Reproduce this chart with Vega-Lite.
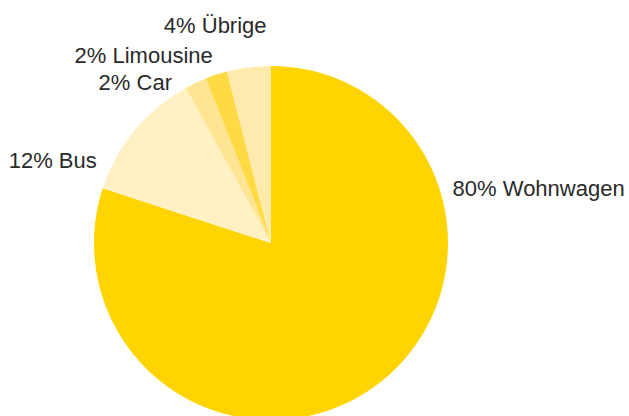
{
  "$schema": "https://vega.github.io/schema/vega-lite/v6.json",
  "autosize": "none",
  "padding": {"top": 70, "left": 0, "right": 87, "bottom": 0},
  "width": 542,
  "height": 346,
  "background": "white",
  "config": {"view": {"stroke": null}},
  "data": {
    "values": [
      {"category": "Wohnwagen", "share": 80, "rank": 1, "label": "80% Wohnwagen"},
      {"category": "Bus", "share": 12, "rank": 2, "label": "12% Bus"},
      {"category": "Car", "share": 2, "rank": 3, "label": "2% Car"},
      {"category": "Limousine", "share": 2, "rank": 4, "label": "2% Limousine"},
      {"category": "Übrige", "share": 4, "rank": 5, "label": "4% Übrige"}
    ]
  },
  "encoding": {
    "theta": {"field": "share", "type": "quantitative", "stack": true},
    "order": {"field": "rank", "type": "quantitative"}
  },
  "layer": [
    {
      "mark": {"type": "arc", "radius": 177},
      "encoding": {
        "color": {
          "field": "category",
          "type": "nominal",
          "scale": {
            "domain": ["Wohnwagen", "Bus", "Car", "Limousine", "Übrige"],
            "range": ["#FFD400", "#FFF1C4", "#FFE593", "#FFDA44", "#FFEAAE"]
          },
          "legend": null
        }
      }
    },
    {
      "mark": {"type": "text", "radius": 195, "align": "left", "baseline": "alphabetic", "dx": 67, "dy": -205, "fontSize": 22, "font": "Liberation Sans", "color": "#2a2a2a"},
      "encoding": {"text": {"condition": {"test": "datum.category === 'Wohnwagen'", "field": "label"}, "value": ""}}
    },
    {
      "mark": {"type": "text", "radius": 195, "align": "right", "baseline": "alphabetic", "dx": -24, "dy": 49, "fontSize": 22, "font": "Liberation Sans", "color": "#2a2a2a"},
      "encoding": {"text": {"condition": {"test": "datum.category === 'Bus'", "field": "label"}, "value": ""}}
    },
    {
      "mark": {"type": "text", "radius": 195, "align": "right", "baseline": "alphabetic", "dx": -16, "dy": 23, "fontSize": 22, "font": "Liberation Sans", "color": "#2a2a2a"},
      "encoding": {"text": {"condition": {"test": "datum.category === 'Car'", "field": "label"}, "value": ""}}
    },
    {
      "mark": {"type": "text", "radius": 195, "align": "right", "baseline": "alphabetic", "dx": 2, "dy": 5, "fontSize": 22, "font": "Liberation Sans", "color": "#2a2a2a"},
      "encoding": {"text": {"condition": {"test": "datum.category === 'Limousine'", "field": "label"}, "value": ""}}
    },
    {
      "mark": {"type": "text", "radius": 195, "align": "right", "baseline": "alphabetic", "dx": 20, "dy": -17, "fontSize": 22, "font": "Liberation Sans", "color": "#2a2a2a"},
      "encoding": {"text": {"condition": {"test": "datum.category === 'Übrige'", "field": "label"}, "value": ""}}
    }
  ]
}
